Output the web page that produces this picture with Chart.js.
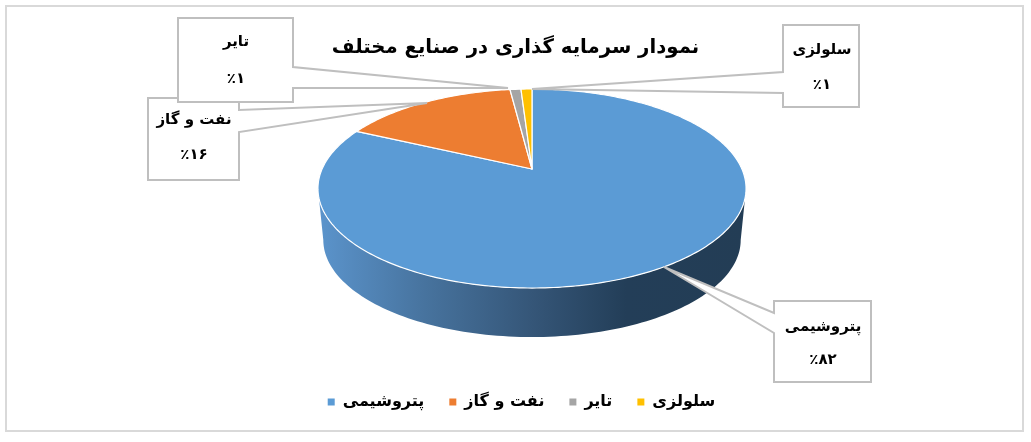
<!DOCTYPE html>
<html lang="fa">
<head>
<meta charset="utf-8">
<title>نمودار سرمایه گذاری</title>
<script src="https://cdn.jsdelivr.net/npm/chart.js@4/dist/chart.umd.min.js"></script>
<style>
html,body{margin:0;padding:0;background:#fff;}
#wrap{position:absolute;left:0;top:0;width:1031px;height:442px;}
</style>
</head>
<body>
<div id="wrap"><canvas id="grafico" width="1031" height="442"></canvas></div>
<script>
var titulo = "نمودار سرمایه گذاری در صنایع مختلف";
var categorias = ["پتروشیمی", "نفت و گاز", "تایر", "سلولزی"];
var valores = [82, 16, 1, 1];
var porcentajes = ["٪۸۲", "٪۱۶", "٪۱", "٪۱"];
var colores = ["#5B9BD5", "#ED7D31", "#A5A5A5", "#FFC000"];

var fuente = '"DejaVu Sans", sans-serif';

// perspective of the 3D disc
var cx = 532, apexY = 169, k = 0.196, rx = 209.9, ry = 95.7;
var baseY = 221, baseScale = 0.975;

function topPoint(a){
    var u = Math.cos(a), v = Math.sin(a), w = 1 - k * v;
    return [cx + rx * u / w, apexY + ry * v / w];
}
function basePoint(a){
    var u = Math.cos(a), v = Math.sin(a), w = 1 - k * v;
    return [cx + baseScale * rx * u / w, baseY + baseScale * ry * v / w];
}

// label boxes: box, two points where the wedge leaves the box, wedge tip, text positions
var cajas = [
    {x:774, y:301, w:97, h:81, p1:[774,313], p2:[774,333], tip:[664,267], tx:823, ty1:327, ty2:360},
    {x:148, y:98, w:91, h:82, p1:[239,110], p2:[239,132], tip:[427,103], tx:194, ty1:120, ty2:155},
    {x:178, y:18, w:115, h:84, p1:[293,67], p2:[293,88], tip:[508,88], tx:236, ty1:42, ty2:79},
    {x:783, y:25, w:76, h:82, p1:[783,72], p2:[783,93], tip:[532,89], tx:822, ty1:50, ty2:85}
];

function dibujaCaja(ctx, c, i){
    var x2 = c.x + c.w, y2 = c.y + c.h;
    ctx.beginPath();
    ctx.moveTo(c.x, c.y);
    ctx.lineTo(x2, c.y);
    if (c.p1[0] == x2) {
        ctx.lineTo(c.p1[0], c.p1[1]);
        ctx.lineTo(c.tip[0], c.tip[1]);
        ctx.lineTo(c.p2[0], c.p2[1]);
        ctx.lineTo(x2, y2);
        ctx.lineTo(c.x, y2);
    } else {
        ctx.lineTo(x2, y2);
        ctx.lineTo(c.x, y2);
        ctx.lineTo(c.p2[0], c.p2[1]);
        ctx.lineTo(c.tip[0], c.tip[1]);
        ctx.lineTo(c.p1[0], c.p1[1]);
    }
    ctx.closePath();
    ctx.fillStyle = "#fff";
    ctx.fill();
    ctx.lineWidth = 2;
    ctx.strokeStyle = "#BFBFBF";
    ctx.stroke();
    ctx.fillStyle = "#000";
    ctx.textAlign = "center";
    ctx.textBaseline = "middle";
    ctx.font = "bold 15px " + fuente;
    ctx.fillText(categorias[i], c.tx, c.ty1);
    ctx.fillText(porcentajes[i], c.tx, c.ty2);
}

var disco3d = {
    id: "disco3d",
    afterLayout: function(chart){
        // legend sits a little right of the canvas centre
        chart.legend.left += 6;
        chart.legend.right += 6;
    },
    beforeDraw: function(chart){
        var ctx = chart.ctx;
        ctx.save();
        ctx.fillStyle = "#fff";
        ctx.fillRect(0, 0, 1031, 442);
        ctx.strokeStyle = "#D9D9D9";
        ctx.lineWidth = 2;
        ctx.strokeRect(6, 6, 1017, 425);
        ctx.restore();
    },
    beforeDatasetDraw: function(chart, args){
        var ctx = chart.ctx, arcs = args.meta.data, i, a, n;
        ctx.save();
        // side wall, only the first slice is visible from the front
        var a0 = Math.asin(k), a1 = Math.PI - a0;
        var g = ctx.createLinearGradient(318, 0, 746, 0);
        g.addColorStop(0, "#5B94CC");
        g.addColorStop(0.25, "#47739E");
        g.addColorStop(0.5, "#355678");
        g.addColorStop(0.72, "#233E58");
        g.addColorStop(1, "#233D55");
        ctx.beginPath();
        n = 120;
        for (i = 0; i <= n; i++) {
            a = a0 + (a1 - a0) * i / n;
            var p = topPoint(a);
            if (i == 0) ctx.moveTo(p[0], p[1]); else ctx.lineTo(p[0], p[1]);
        }
        for (i = n; i >= 0; i--) {
            a = a0 + (a1 - a0) * i / n;
            var q = basePoint(a);
            ctx.lineTo(q[0], q[1]);
        }
        ctx.closePath();
        ctx.fillStyle = g;
        ctx.fill();
        // top face from the arcs that the library computed
        arcs.forEach(function(arc, j){
            var s = arc.startAngle, e = arc.endAngle, pasos = Math.max(4, Math.ceil((e - s) * 60));
            ctx.beginPath();
            var ap = topPoint(s);
            ctx.moveTo(cx, apexY);
            ctx.lineTo(ap[0], ap[1]);
            for (var m = 1; m <= pasos; m++) {
                var r = topPoint(s + (e - s) * m / pasos);
                ctx.lineTo(r[0], r[1]);
            }
            ctx.closePath();
            ctx.fillStyle = colores[j];
            ctx.fill();
            ctx.lineWidth = 1.2;
            ctx.strokeStyle = "#fff";
            ctx.lineJoin = "round";
            ctx.stroke();
        });
        ctx.restore();
        return false;
    },
    afterDatasetsDraw: function(chart){
        var ctx = chart.ctx;
        ctx.save();
        ctx.lineJoin = "miter";
        cajas.forEach(function(c, i){ dibujaCaja(ctx, c, i); });
        ctx.restore();
    }
};

var grafico = new Chart(document.getElementById("grafico").getContext("2d"), {
    type: "pie",
    data: {
        labels: categorias,
        datasets: [{
            data: valores,
            backgroundColor: colores,
            borderColor: colores,
            borderWidth: 0
        }]
    },
    options: {
        responsive: false,
        animation: false,
        layout: { padding: { bottom: 22 } },
        plugins: {
            title: {
                display: true,
                text: titulo,
                color: "#000",
                font: { family: fuente, size: 19.7, weight: "bold" },
                padding: { top: 36, bottom: 6 }
            },
            legend: {
                position: "bottom",
                labels: {
                    boxWidth: 7,
                    boxHeight: 7,
                    padding: 25,
                    color: "#000",
                    font: { family: fuente, size: 16, weight: "bold" }
                }
            },
            tooltip: { enabled: false }
        }
    },
    plugins: [disco3d]
});
</script>
</body>
</html>
